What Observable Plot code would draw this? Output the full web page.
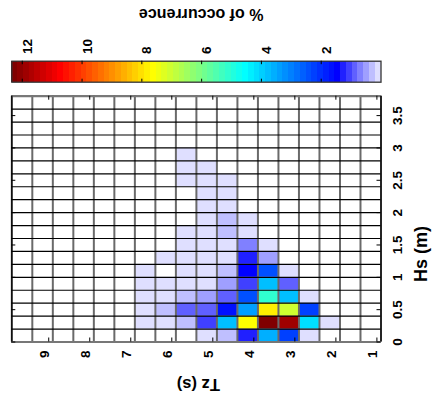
<!DOCTYPE html>
<html><head><meta charset="utf-8">
<script src="https://cdn.jsdelivr.net/npm/d3@7"></script>
<script src="https://cdn.jsdelivr.net/npm/@observablehq/plot@0.6"></script>
<style>
html,body{margin:0;padding:0;background:#fff;}
#chart{width:432px;height:394px;overflow:hidden;background:#fff;}
#chart svg{display:block;}
</style></head><body><div id="chart"></div>
<script>
// Tick labels
const tzTicks = [1, 2, 3, 4, 5, 6, 7, 8, 9];
const hsTicks = [0, 0.5, 1, 1.5, 2, 2.5, 3, 3.5];
const cbTicks = [2, 4, 6, 8, 10, 12];
// Bin edges (Tz bins of 0.5 s, Hs bins of 0.2 m)
const tzEdges = [0.9, 1.4, 1.9, 2.4, 2.9, 3.4, 3.9, 4.4, 4.9, 5.4, 5.9, 6.4, 6.9, 7.4, 7.9, 8.4, 8.9, 9.4, 9.9];
const hsEdges = [0, 0.2, 0.4, 0.6, 0.8, 1.0, 1.2, 1.4, 1.6, 1.8, 2.0, 2.2, 2.4, 2.6, 2.8, 3.0, 3.2, 3.4, 3.6, 3.8];
const binW = 0.5, binH = 0.2;
// Cells: lower Tz edge, lower Hs edge, % of occurrence
const cellTz = [
  6.4, 6.4, 6.4, 6.4, 6.4,
  5.9, 5.9, 5.9, 5.9, 5.9,
  5.4, 5.4, 5.4, 5.4, 5.4, 5.4, 5.4, 5.4, 5.4, 5.4, 5.4,
  4.9, 4.9, 4.9, 4.9, 4.9, 4.9, 4.9, 4.9, 4.9, 4.9, 4.9, 4.9, 4.9, 4.9,
  4.4, 4.4, 4.4, 4.4, 4.4, 4.4, 4.4, 4.4, 4.4, 4.4, 4.4, 4.4, 4.4,
  3.9, 3.9, 3.9, 3.9, 3.9, 3.9, 3.9, 3.9, 3.9, 3.9,
  3.4, 3.4, 3.4, 3.4, 3.4, 3.4, 3.4, 3.4,
  2.9, 2.9, 2.9, 2.9, 2.9, 2.9,
  2.4, 2.4, 2.4, 2.4,
  1.9
];
const cellHs = [
  0.2, 0.4, 0.6, 0.8, 1.0,
  0.2, 0.4, 0.6, 0.8, 1.2,
  0.2, 0.4, 0.6, 0.8, 1.0, 1.2, 1.4, 1.6, 2.4, 2.6, 2.8,
  0, 0.2, 0.4, 0.6, 0.8, 1.0, 1.2, 1.4, 1.6, 1.8, 2.0, 2.2, 2.4, 2.6,
  0, 0.2, 0.4, 0.6, 0.8, 1.0, 1.2, 1.4, 1.6, 1.8, 2.0, 2.2, 2.4,
  0, 0.2, 0.4, 0.6, 0.8, 1.0, 1.2, 1.4, 1.6, 1.8,
  0, 0.2, 0.4, 0.6, 0.8, 1.0, 1.2, 1.4,
  0, 0.2, 0.4, 0.6, 0.8, 1.0,
  0, 0.2, 0.4, 0.6,
  0.2
];
const cellPct = [
  0.1, 0.1, 0.1, 0.1, 0.1,
  0.1, 0.29, 0.1, 0.1, 0.1,
  0.29, 0.87, 0.29, 0.1, 0.1, 0.1, 0.1, 0.1, 0.1, 0.1, 0.1,
  0.1, 1.06, 0.87, 0.48, 0.1, 0.1, 0.1, 0.1, 0.1, 0.1, 0.1, 0.1, 0.1, 0.1,
  0.29, 3.8, 1.64, 0.87, 0.48, 0.29, 0.1, 0.1, 0.29, 0.29, 0.1, 0.1, 0.1,
  1.25, 7.62, 3.38, 2.41, 1.06, 1.45, 1.25, 0.68, 0.1, 0.1,
  3.57, 12.35, 7.82, 5.11, 3.76, 2.41, 0.48, 0.1,
  2.22, 11.87, 7.04, 3.76, 0.87, 0.1,
  0.1, 4.15, 2.22, 0.1,
  0.1
];
const cells = cellPct.map((p, i) => ({tz: cellTz[i], hs: cellHs[i], pct: p}));

// 64-level colormap: lavender -> blue, then jet
function cmap(i) {
  let r, g, b;
  if (i <= 7) { const w = (7 - i) / 8; r = w; g = w; b = 1; }
  else if (i <= 23) { r = 0; g = (i - 7) / 16; b = 1; }
  else if (i <= 39) { r = (i - 23) / 16; g = 1; b = 1 - (i - 23) / 16; }
  else if (i <= 55) { r = 1; g = 1 - (i - 39) / 16; b = 0; }
  else { r = 1 - (i - 55) / 16; g = 0; b = 0; }
  return d3.rgb(r * 255, g * 255, b * 255).formatHex();
}
const cmax = d3.max(cellPct);
const NLEV = 64;
const colorOpts = {
  type: "linear", domain: [0, cmax],
  interpolate: t => cmap(Math.max(0, Math.min(NLEV - 1, Math.floor(t * NLEV))))
};
const FONT = "'Liberation Sans', Arial, Helvetica, sans-serif";
const W = 432, L = 11.3, R = 51.5;
const style = {fontFamily: FONT, fontWeight: "bold", background: "transparent", overflow: "visible", color: "black"};

const cb = Plot.plot({
  width: W, height: 90,
  marginLeft: L, marginRight: R, marginTop: 60.7, marginBottom: 8.3,
  x: {domain: [cmax, 0], axis: null},
  y: {domain: [0, 1], axis: null},
  color: colorOpts,
  style,
  marks: [
    Plot.rect(d3.range(NLEV), {
      x1: i => i * cmax / NLEV, x2: i => (i + 1) * cmax / NLEV,
      y1: 0, y2: 1, fill: i => (i + 0.5) * cmax / NLEV, shapeRendering: "crispEdges"
    }),
    Plot.frame({stroke: "#333", strokeWidth: 1.3}),
    Plot.ruleX(cbTicks, {insetBottom: 17.5, stroke: "black"}),
    Plot.ruleX(cbTicks, {insetTop: 18, stroke: "black"}),
    Plot.text(cbTicks, {x: d => d, frameAnchor: "top", dy: -7.2, rotate: -90, textAnchor: "start",
      text: d => String(d), fontSize: 13.5, fontWeight: "bold"}),
    Plot.text(["% of occurrence"], {frameAnchor: "top", dx: 4.8, dy: -41.2, rotate: 180,
      text: d => d, fontSize: 16, fontWeight: "bold"})
  ]
});

const H = 304, MT = 5.7, MB = 52.5;
const fh = H - MT - MB, fw = W - L - R;
const main = Plot.plot({
  width: W, height: H,
  marginLeft: L, marginRight: R, marginTop: MT, marginBottom: MB,
  x: {domain: [tzEdges[tzEdges.length - 1], tzEdges[0]], axis: null},
  y: {domain: [hsEdges[0], hsEdges[hsEdges.length - 1]], axis: null},
  color: colorOpts,
  style,
  marks: [
    Plot.rect(cells, {x1: "tz", x2: d => d.tz + binW, y1: "hs", y2: d => d.hs + binH, fill: "pct"}),
    Plot.ruleX(tzEdges, {stroke: "#6a6a6a", strokeWidth: 2}),
    Plot.ruleY(hsEdges, {stroke: "#000", strokeWidth: 1.2}),
    Plot.ruleY([hsEdges[0], hsEdges[hsEdges.length - 1]], {stroke: "#777", strokeWidth: 2}),
    Plot.ruleX([tzEdges[0], tzEdges[tzEdges.length - 1]], {stroke: "#000", strokeWidth: 1.3}),
    Plot.ruleX(tzTicks, {insetBottom: fh - 4, stroke: "black"}),
    Plot.ruleX(tzTicks, {insetTop: fh - 4, stroke: "black"}),
    Plot.ruleY(hsTicks, {insetRight: fw - 4, stroke: "black"}),
    Plot.ruleY(hsTicks, {insetLeft: fw - 4, stroke: "black"}),
    Plot.text(tzTicks, {x: d => d, frameAnchor: "bottom", dy: 8.5, rotate: -90, textAnchor: "end",
      text: d => String(d), fontSize: 13.5, fontWeight: "bold"}),
    Plot.text(hsTicks, {y: d => d, frameAnchor: "right", dx: 16.2, rotate: -90, textAnchor: "middle",
      text: d => String(d), fontSize: 13.5, fontWeight: "bold"}),
    Plot.text(["Hs (m)"], {frameAnchor: "right", dx: 40, dy: 7, rotate: -90, text: d => d, fontSize: 18, fontWeight: "bold"}),
    Plot.text(["Tz (s)"], {frameAnchor: "bottom", dx: 2, dy: 36.5, rotate: 180, text: d => d, fontSize: 16.5, fontWeight: "bold"})
  ]
});

const el = document.getElementById("chart");
el.appendChild(cb);
el.appendChild(main);
</script></body></html>
